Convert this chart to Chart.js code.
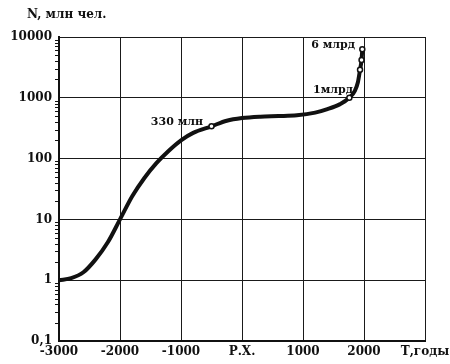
<!DOCTYPE html>
<html>
<head>
<meta charset="utf-8">
<script src="https://cdn.jsdelivr.net/npm/chart.js@4"></script>
<style>
html,body{margin:0;padding:0;background:#fff;}
#wrap{width:450px;height:364px;position:relative;}
</style>
</head>
<body>
<div id="wrap"><canvas id="c"></canvas></div>
<script>
// Population curve (years, millions of people)
const years = [-3000, -2800, -2600, -2400, -2200, -2000, -1800, -1600, -1400, -1200, -1000, -800, -500, -250, 0, 300, 600, 900, 1200, 1400, 1600, 1760, 1850, 1900, 1935, 1960, 1972];
const population = [1, 1.08, 1.35, 2.2, 4.2, 10, 24, 48, 85, 135, 200, 265, 340, 420, 465, 490, 500, 515, 570, 650, 780, 1000, 1300, 1800, 2900, 4200, 6300];

// Marked points (hollow circles)
const markerYears = [-500, 1760, 1935, 1960, 1972];
const markerValues = [340, 1000, 2900, 4200, 6300];

// Annotations (text, anchor year of text right end, anchor value)
const noteTexts = ["330 млн", "1млрд", "6 млрд"];
const noteYears = [-639, 1820, 1852];
const noteValues = [405, 1350, 7400];

// Axis ticks
const xTickValues = [-3000, -2000, -1000, 0, 1000, 2000, 3000];
const xTickLabels = ["-3000", "-2000", "-1000", "Р.Х.", "1000", "2000", "Т,годы"];
const yTickValues = [0.1, 1, 10, 100, 1000, 10000];
const yTickLabels = ["0,1", "1", "10", "100", "1000", "10000"];
const yTitle = "N, млн чел.";

const FONT = "'DejaVu Serif', serif";

const extras = {
  id: 'extras',
  afterDraw(chart) {
    const ctx = chart.ctx;
    const xs = chart.scales.x, ys = chart.scales.y;
    const area = chart.chartArea;
    ctx.save();
    // minor log ticks on left axis
    ctx.strokeStyle = '#111';
    ctx.lineWidth = 1;
    for (let d = 0.1; d < 10000; d *= 10) {
      for (let m = 2; m <= 9; m++) {
        const py = Math.round(ys.getPixelForValue(d * m)) + 0.5;
        ctx.beginPath();
        ctx.moveTo(area.left - 4, py);
        ctx.lineTo(area.left, py);
        ctx.stroke();
      }
    }
    // title
    ctx.fillStyle = '#111';
    ctx.font = "bold 12px " + FONT;
    ctx.textAlign = 'left';
    ctx.textBaseline = 'middle';
    ctx.fillText(yTitle, 27, 15);
    // annotations
    ctx.font = "bold 11px " + FONT;
    ctx.textAlign = 'right';
    for (let i = 0; i < noteTexts.length; i++) {
      ctx.fillText(noteTexts[i], xs.getPixelForValue(noteYears[i]), ys.getPixelForValue(noteValues[i]));
    }
    ctx.restore();
  }
};

new Chart(document.getElementById('c'), {
  type: 'line',
  data: {
    datasets: [
      {
        data: years.map((y, i) => ({x: y, y: population[i]})),
        borderColor: '#111',
        borderWidth: 4,
        pointRadius: 0,
        cubicInterpolationMode: 'monotone',
        fill: false,
        order: 2
      },
      {
        data: markerYears.map((y, i) => ({x: y, y: markerValues[i]})),
        showLine: false,
        pointRadius: 2.5,
        pointBackgroundColor: '#fff',
        pointBorderColor: '#111',
        pointBorderWidth: 1.5,
        order: 1
      }
    ]
  },
  options: {
    responsive: true,
    maintainAspectRatio: false,
    animation: false,
    events: [],
    layout: {padding: {top: 37, right: 25, left: 0, bottom: 0}},
    plugins: {legend: {display: false}, tooltip: {enabled: false}},
    scales: {
      x: {
        type: 'linear',
        min: -3000, max: 3000,
        afterBuildTicks(s) { s.ticks = xTickValues.map(v => ({value: v})); },
        afterFit(s) { s.height = 23; s.paddingLeft = 0; s.paddingRight = 0; },
        grid: {color: '#1a1a1a', lineWidth: 1, drawTicks: false},
        border: {color: '#111', width: 2},
        ticks: {
          color: '#111',
          padding: 4,
          maxRotation: 0,
          autoSkip: false,
          font: {family: FONT, weight: 'bold', size: 12},
          callback: (v) => { const i = xTickValues.indexOf(v); return i >= 0 ? xTickLabels[i] : ''; }
        }
      },
      y: {
        type: 'logarithmic',
        min: 0.1, max: 10000,
        afterBuildTicks(s) { s.ticks = yTickValues.map(v => ({value: v})); },
        afterFit(s) { s.width = 59; s.paddingTop = 0; s.paddingBottom = 0; },
        grid: {color: '#1a1a1a', lineWidth: 1, drawTicks: false},
        border: {color: '#111', width: 2},
        ticks: {
          color: '#111',
          padding: 7,
          autoSkip: false,
          font: {family: FONT, weight: 'bold', size: 12},
          callback: (v) => { const i = yTickValues.indexOf(v); return i >= 0 ? yTickLabels[i] : ''; }
        }
      }
    }
  },
  plugins: [extras]
});
</script>
</body>
</html>
